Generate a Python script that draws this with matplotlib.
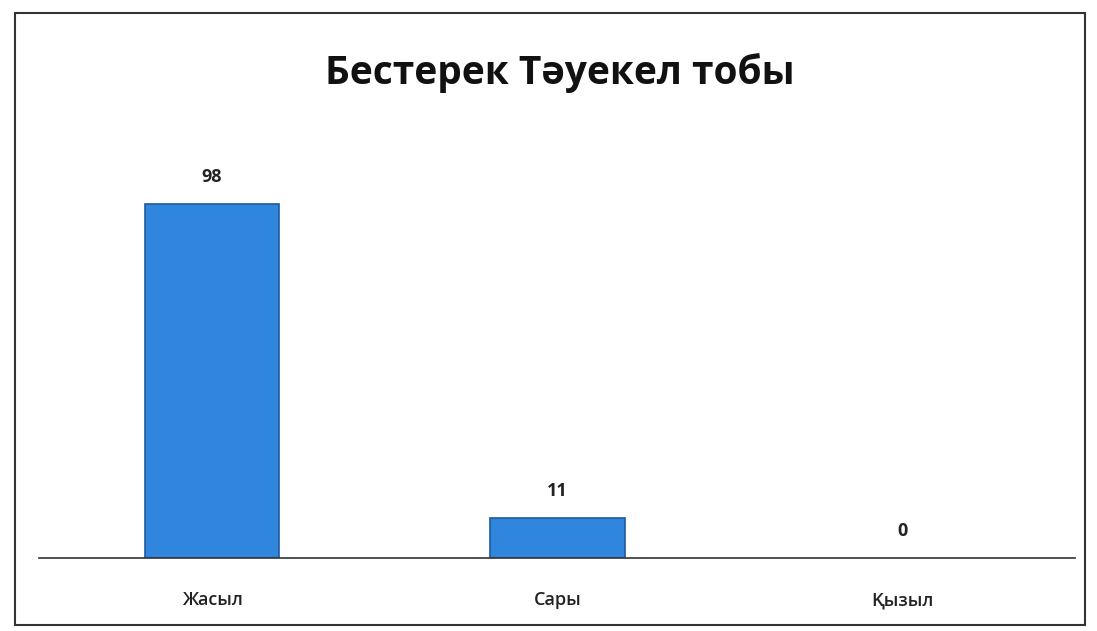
import matplotlib.pyplot as plt
from matplotlib.patches import Rectangle

plt.rcParams['font.family'] = ['Open Sans', 'Noto Sans', 'DejaVu Sans']

categories = ['Жасыл', 'Сары', 'Қызыл']
counts = [98, 11, 0]
title = 'Бестерек Тәуекел тобы'

fig = plt.figure(figsize=(10.97, 6.31), dpi=100)
ax = fig.add_axes([0.036, 0.116, 0.944, 0.686])

x = range(len(categories))
edge_w = [1.2 if v > 0 else 0 for v in counts]
bars = ax.bar(x, counts, width=0.39, color='#2f86dc', edgecolor='#1d5aa0', linewidth=edge_w)

# value labels above bars
for b, v in zip(bars, counts):
    ax.text(b.get_x() + b.get_width() / 2, v + 5, str(v),
            ha='center', va='bottom', fontsize=13, fontweight='bold', color='#222222')

ax.set_xlim(-0.5, 2.5)
ax.set_ylim(0, 120)
ax.set_xticks(list(x))
ax.set_xticklabels(categories, fontsize=13, fontweight='semibold', color='#222222')
ax.tick_params(axis='x', length=0, pad=24)
ax.set_yticks([])
for s in ['top', 'right', 'left']:
    ax.spines[s].set_visible(False)
ax.spines['bottom'].set_color('#333333')
ax.spines['bottom'].set_linewidth(1.2)

fig.text(0.51, 0.885, title, ha='center', va='center', fontsize=28, fontweight='bold', color='#111111')

# chart frame
fig.patches.append(Rectangle((0.014, 0.01), 0.975, 0.97, transform=fig.transFigure,
                             fill=False, edgecolor='#333333', linewidth=1.5))

fig.savefig('out.png', dpi=100)
